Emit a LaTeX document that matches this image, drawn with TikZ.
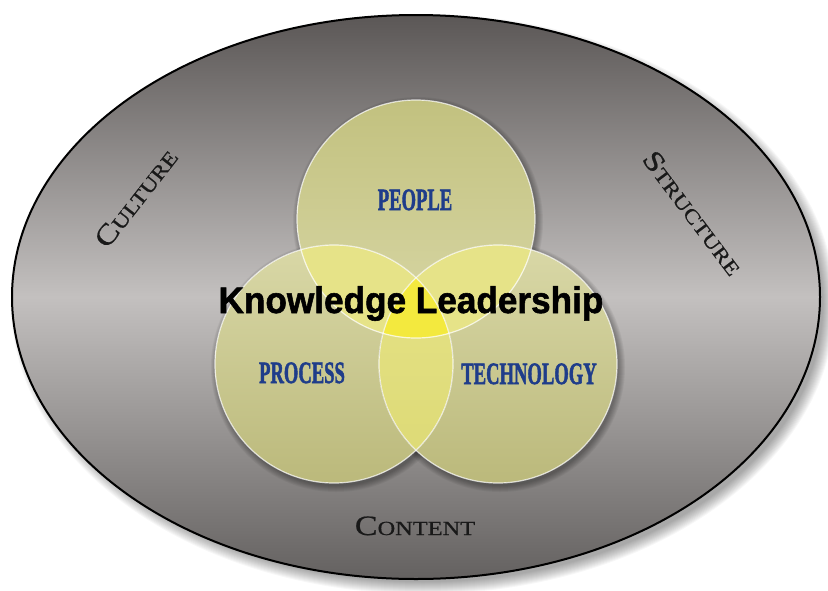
\documentclass[tikz,border=0pt]{standalone}
\usepackage{fontspec}
\usetikzlibrary{positioning}
\newfontfamily\titlefont[BoldFeatures={FakeBold=1.5}]{Liberation Sans}
\newfontfamily\setfont[BoldFeatures={FakeBold=2}]{Liberation Serif}
\newfontfamily\ringfont[FakeBold=0.6]{Liberation Serif}
\definecolor{ringtop}{HTML}{5B5756}
\definecolor{ringmid}{HTML}{C3C0BF}
\definecolor{ringbot}{HTML}{646160}
\definecolor{setblue}{HTML}{1F3D8A}
\definecolor{venntop}{HTML}{C2C17F}
\definecolor{vennpale}{HTML}{D9D8A7}
\definecolor{vennlow}{HTML}{BBB97B}
\definecolor{lensyellow}{HTML}{E6E388}
\definecolor{lowlens}{HTML}{DCD974}
\definecolor{coreyellow}{HTML}{F3E93E}

\newcommand{\ringcaps}[2]{{\fontsize{28}{28}\selectfont #1}{\fontsize{20}{20}\selectfont #2}}

\begin{document}
\begin{tikzpicture}[x=1pt, y=-1pt,
    venn/.style={circle, minimum size=238pt, inner sep=0pt},
    setlabel/.style={
        font=\setfont\bfseries\fontsize{31}{31}\selectfont,
        text=setblue,
        xscale=0.6,
        anchor=base
    },
    ringlabel/.style={
        font=\ringfont,
        text=black!90,
        inner sep=0pt
    }
]

% --- CANVAS ---
\useasboundingbox (0,0) rectangle (828,590);

% --- OUTER RING ---
\coordinate (ring) at (416,297);
\foreach \s in {-4,...,8}
    \fill[black, opacity=0.03] ([shift={(7,7)}]ring) ellipse ({404+\s} and {282+\s});
\draw[line width=2pt, top color=ringtop, bottom color=ringbot, middle color=ringmid]
    (ring) ellipse (404 and 282);

% --- SET CIRCLES ---
\node[venn] (people)  at (416,219) {};
\node[venn] (process) at (334,364) {};
\node[venn] (tech)    at (498,364) {};

\foreach \c in {people, process, tech}
    \foreach \s in {0,...,6}
        \fill[black, opacity=0.05] ([shift={(2,3)}]\c.center) circle ({119+\s});

\fill[top color=venntop, bottom color=vennpale] (people.center) circle (119);
\fill[top color=vennpale, bottom color=vennlow] (process.center) circle (119);
\fill[top color=vennpale, bottom color=vennlow] (tech.center) circle (119);

% overlaps
\begin{scope}
    \clip (people.center) circle (119);
    \fill[lensyellow] (process.center) circle (119);
    \fill[lensyellow] (tech.center) circle (119);
\end{scope}
\begin{scope}
    \clip (process.center) circle (119);
    \fill[top color=lensyellow, bottom color=lowlens] (tech.center) circle (119);
    \clip (people.center) circle (119);
    \fill[coreyellow] (tech.center) circle (119);
\end{scope}

\foreach \c in {people, process, tech}
    \draw[white, opacity=0.75, line width=1.2pt] (\c.center) circle (119);

% --- LABELS ---
\node[setlabel] (peoplelbl)  at (415,210) {PEOPLE};
\node[setlabel] (processlbl) at (302,383) {PROCESS};
\node[setlabel] (techlbl)    at (529,384) {TECHNOLOGY};

\node[anchor=base, xscale=0.95, font=\titlefont\bfseries\fontsize{37}{37}\selectfont]
    (title) at (411,313) {Knowledge Leadership};

\node[ringlabel, rotate=52, xscale=1.22] (culture) at (136,198) {\ringcaps{C}{ULTURE}};
\node[ringlabel, rotate=-53, xscale=1.22] (structure) at (693,213) {\ringcaps{S}{TRUCTURE}};
\node[ringlabel, anchor=base, xscale=1.22] (content) at (415,535) {\ringcaps{C}{ONTENT}};

\end{tikzpicture}
\end{document}
